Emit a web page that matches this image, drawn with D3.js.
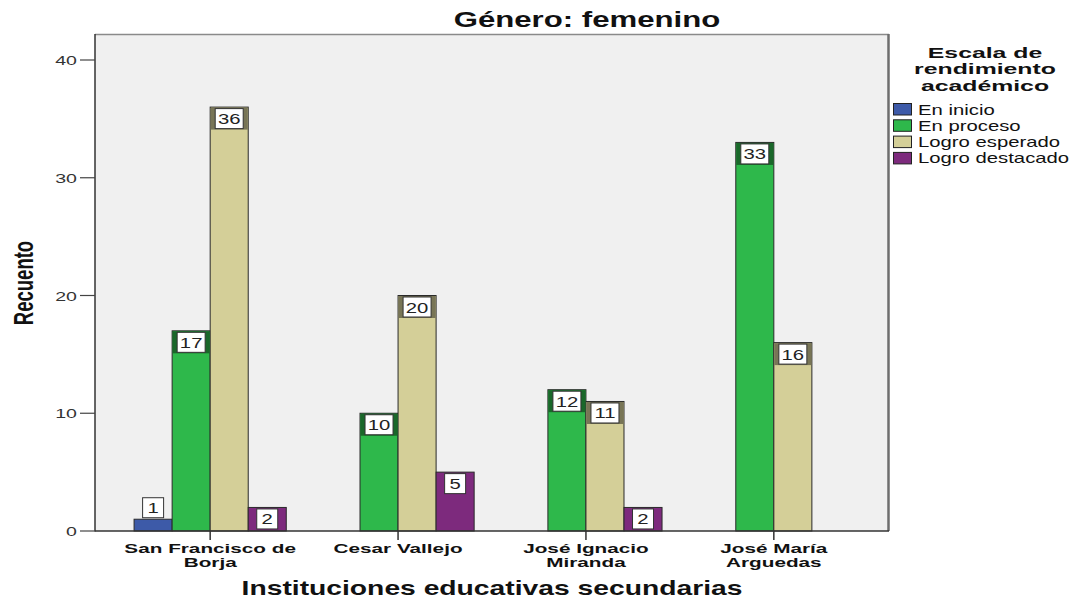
<!DOCTYPE html>
<html><head><meta charset="utf-8">
<script src="https://cdn.jsdelivr.net/npm/d3@7"></script>
<style>body{margin:0;background:#fff}svg{display:block}text{font-family:"Liberation Sans",Arial,sans-serif}</style>
</head><body>
<svg id="c" width="1078" height="598"></svg>
<script>
const schools = [["San Francisco de","Borja"],["Cesar Vallejo"],["José Ignacio","Miranda"],["José María","Arguedas"]];
const seriesNames = ["En inicio","En proceso","Logro esperado","Logro destacado"];
const seriesColors = ["#3d5aa8","#2eb84b","#d4cf98","#7d2a7d"];
const enInicio = [1, null, null, null];
const enProceso = [17, 10, 12, 33];
const logroEsperado = [36, 20, 11, 16];
const logroDestacado = [2, 5, 2, null];
const yTicks = [0, 10, 20, 30, 40];
const title = "Género: femenino";
const xTitle = "Instituciones educativas secundarias";
const yTitle = "Recuento";
const legendTitle = ["Escala de","rendimiento","académico"];

const values = [enInicio, enProceso, logroEsperado, logroDestacado];
const SX = 1.45;
const svg = d3.select("#c");
const L = 95, R = 889, T = 34, B = 531;

function st(g, x, y, s, size, weight, anchor, color, sx){
  return g.append("text").attr("transform",`translate(${x},${y}) scale(${sx||SX},1)`)
    .attr("font-size",size).attr("font-weight",weight||"normal")
    .attr("text-anchor",anchor||"start").attr("fill",color||"#000").text(s);
}

const keys = schools.map(d=>d.join(" "));
const x0 = d3.scaleBand().domain(keys).range([L,R]).paddingInner(0.19).paddingOuter(0.208);
const x1 = d3.scaleBand().domain(seriesNames).range([0,x0.bandwidth()]);
const y = d3.scaleLinear().domain([0,40]).range([B,60]);

// plot background
svg.append("rect").attr("x",L).attr("y",T).attr("width",R-L).attr("height",B-T).attr("fill","#f0f0f0");

// bars
const bars = svg.append("g");
const labels = svg.append("g");
values.forEach((arr,si)=>{
  arr.forEach((v,ci)=>{
    if(v==null) return;
    const bx = x0(keys[ci]) + x1(seriesNames[si]);
    const bw = x1.bandwidth();
    const by = y(v);
    const col = seriesColors[si];
    bars.append("rect").attr("x",bx).attr("y",by).attr("width",bw).attr("height",B-by)
      .attr("fill",col).attr("stroke","#2a2a2a").attr("stroke-width",1);
    const txt = String(v);
    const boxW = txt.length>1 ? 28 : 21, boxH = 20;
    const cx = bx + bw/2;
    let boxY;
    if (B-by >= boxH+3) {
      boxY = by + 1.5;
      if (si !== 3) {
        labels.append("rect").attr("x",bx+0.5).attr("y",by+0.5).attr("width",bw-1).attr("height",boxH+2)
          .attr("fill",d3.color(col).darker(1.6).formatHex());
      }
    } else {
      boxY = by - boxH - 1.5;
    }
    labels.append("rect").attr("x",cx-boxW/2).attr("y",boxY).attr("width",boxW).attr("height",boxH)
      .attr("fill","#fff").attr("stroke","#333").attr("stroke-width",1);
    st(labels, cx, boxY+15.5, txt, 14, "normal", "middle", "#222");
  });
});

// frame
svg.append("line").attr("x1",L).attr("x2",R).attr("y1",T+0.5).attr("y2",T+0.5).attr("stroke","#8a8a8a").attr("stroke-width",1.5);
svg.append("line").attr("x1",R-0.5).attr("x2",R-0.5).attr("y1",T).attr("y2",B).attr("stroke","#6e6e6e").attr("stroke-width",2.5);
svg.append("line").attr("x1",L).attr("x2",L).attr("y1",T).attr("y2",B+0.5).attr("stroke","#333").attr("stroke-width",1.5);
svg.append("line").attr("x1",L).attr("x2",R).attr("y1",B).attr("y2",B).attr("stroke","#333").attr("stroke-width",1.5);

// y axis ticks
const yg = svg.append("g");
yTicks.forEach(t=>{
  yg.append("line").attr("x1",80).attr("x2",L).attr("y1",y(t)).attr("y2",y(t)).attr("stroke","#444").attr("stroke-width",1.2);
  st(yg, 77, y(t)+5, String(t), 13.5, "normal", "end", "#333");
});

// x axis ticks and labels
const xg = svg.append("g");
schools.forEach((lines,i)=>{
  const cx = x0(keys[i]) + x0.bandwidth()/2;
  xg.append("line").attr("x1",cx).attr("x2",cx).attr("y1",B).attr("y2",B+9).attr("stroke","#333").attr("stroke-width",1.5);
  lines.forEach((s,j)=>{ st(xg, cx, 552.5 + j*14, s, 12.8, "bold", "middle", "#111", 1.62); });
});

// titles
st(svg, 587, 27, title, 21.5, "bold", "middle", "#111");
st(svg, 492, 594.5, xTitle, 19.5, "bold", "middle", "#111");
svg.append("text").attr("transform",`translate(33,283) scale(${SX},1) rotate(-90)`)
  .attr("font-size",18.5).attr("font-weight","bold").attr("text-anchor","middle").attr("fill","#111").text(yTitle);

// legend
const lg = svg.append("g");
legendTitle.forEach((s,i)=>{ st(lg, 985, 57.5 + i*16.5, s, 15.5, "bold", "middle", "#111", 1.6); });
seriesNames.forEach((s,i)=>{
  const yy = 103 + i*16.3;
  lg.append("rect").attr("x",893.5).attr("y",yy+0.5).attr("width",18).attr("height",11.5)
    .attr("fill",seriesColors[i]).attr("stroke","#222").attr("stroke-width",1);
  st(lg, 918, yy+11.5, s, 14, "normal", "start", "#111");
});
</script>
</body></html>
